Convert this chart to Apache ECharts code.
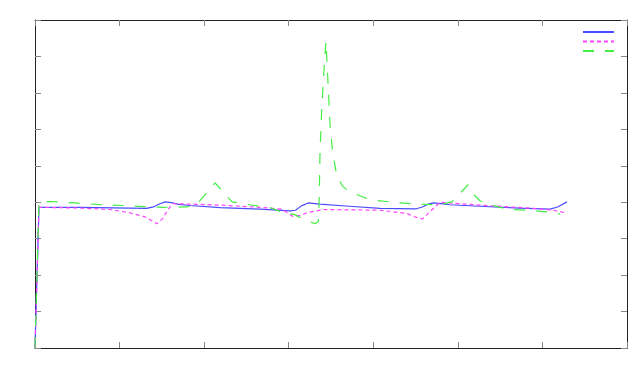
<!DOCTYPE html>
<html>
<head>
<meta charset="utf-8">
<script src="https://cdn.jsdelivr.net/npm/echarts@6/dist/echarts.min.js"></script>
<style>html,body{margin:0;padding:0;background:#fff}#c{width:638px;height:384px}</style>
</head>
<body>
<div id="c"></div>
<script>
// x / y values (axis units: x ticks 0..7, y ticks 0..9)
const blueX = [0, 0.047, 0.53, 1.32, 1.40, 1.47, 1.54, 1.61, 1.70, 1.83, 2.19, 2.66, 3.02, 3.08, 3.15, 3.23, 3.37, 3.72, 4.08, 4.51, 4.58, 4.65, 4.71, 4.80, 4.90, 5.26, 5.73, 6.09, 6.18, 6.29];
const blueY = [0, 3.86, 3.86, 3.83, 3.87, 3.95, 4.01, 3.99, 3.94, 3.91, 3.85, 3.81, 3.76, 3.78, 3.90, 3.98, 3.95, 3.89, 3.83, 3.82, 3.87, 3.95, 3.98, 3.96, 3.93, 3.89, 3.84, 3.81, 3.87, 4.01];

const magX = [0, 0.047, 0.53, 0.89, 1.12, 1.30, 1.44, 1.51, 1.57, 1.63, 1.83, 2.19, 2.66, 2.92, 3.05, 3.13, 3.23, 3.41, 4.08, 4.40, 4.49, 4.58, 4.67, 4.79, 5.26, 5.85, 6.13, 6.29];
const magY = [0, 3.86, 3.84, 3.80, 3.71, 3.60, 3.41, 3.55, 3.79, 3.96, 3.95, 3.92, 3.86, 3.81, 3.61, 3.64, 3.72, 3.80, 3.78, 3.69, 3.60, 3.54, 3.74, 4.00, 3.92, 3.84, 3.78, 3.70];

const grnX = [0, 0.047, 0.177, 0.47, 0.73, 1.03, 1.29, 1.51, 1.80, 1.92, 2.01, 2.13, 2.22, 2.33, 2.54, 2.78, 2.93, 3.07, 3.17, 3.31, 3.35, 3.36, 3.37, 3.39, 3.41, 3.43, 3.44, 3.46, 3.49, 3.52, 3.57, 3.64, 3.72, 3.96, 4.23, 4.49, 4.78, 4.93, 5.00, 5.12, 5.18, 5.26, 5.38, 5.59, 5.88, 6.13, 6.21];
const grnY = [0, 4.01, 4.02, 3.98, 3.94, 3.91, 3.88, 3.86, 3.87, 3.96, 4.21, 4.53, 4.29, 4.01, 3.93, 3.85, 3.72, 3.66, 3.54, 3.41, 3.47, 4.07, 5.36, 6.54, 7.36, 8.05, 8.41, 7.50, 6.08, 5.36, 4.71, 4.43, 4.29, 4.07, 4.00, 3.95, 3.93, 4.01, 4.18, 4.48, 4.23, 4.04, 3.93, 3.81, 3.77, 3.72, 3.67];

const seriesNames = ['s1', 's2', 's3'];
const xMin = 0, xMax = 7, xStep = 1;
const yMin = 0, yMax = 9, yStep = 1;

const zip = (a, b) => a.map((v, i) => [v, b[i]]);

const tickStyle = { show: true, inside: true, length: 6, lineStyle: { color: '#888', width: 1 } };
const lineStyleAx = { show: true, onZero: false, lineStyle: { color: '#222', width: 1 } };
function xa(pos) {
  return { type: 'value', position: pos, min: xMin, max: xMax, interval: xStep,
    axisLine: lineStyleAx, axisTick: tickStyle, axisLabel: { show: false }, splitLine: { show: false } };
}
function ya(pos) {
  return { type: 'value', position: pos, min: yMin, max: yMax, interval: yStep,
    axisLine: lineStyleAx, axisTick: tickStyle, axisLabel: { show: false }, splitLine: { show: false } };
}

const chart = echarts.init(document.getElementById('c'), null, { renderer: 'canvas' });
chart.setOption({
  animation: false,
  backgroundColor: '#fff',
  grid: { left: 35, right: 11, top: 20, bottom: 36 },
  xAxis: [xa('bottom'), xa('top')],
  yAxis: [ya('left'), ya('right')],
  legend: {
    orient: 'vertical', right: 18, top: 22, itemWidth: 31, itemHeight: 10, itemGap: 0.5,
    formatter: () => '', textStyle: { fontSize: 1 },
    itemStyle: { color: 'transparent', borderWidth: 0, opacity: 0 },
    data: seriesNames
  },
  series: [
    { name: seriesNames[0], type: 'line', symbol: 'none', data: zip(blueX, blueY),
      lineStyle: { color: '#4b4bff', width: 1.2, type: 'solid' }, itemStyle: { color: '#4b4bff' } },
    { name: seriesNames[1], type: 'line', symbol: 'none', data: zip(magX, magY),
      lineStyle: { color: '#ff44ff', width: 1.2, type: [4, 3] }, itemStyle: { color: '#ff44ff' } },
    { name: seriesNames[2], type: 'line', symbol: 'none', data: zip(grnX, grnY),
      lineStyle: { color: '#44ee44', width: 1.2, type: [11, 11] }, itemStyle: { color: '#44ee44' } }
  ]
});
</script>
</body>
</html>
